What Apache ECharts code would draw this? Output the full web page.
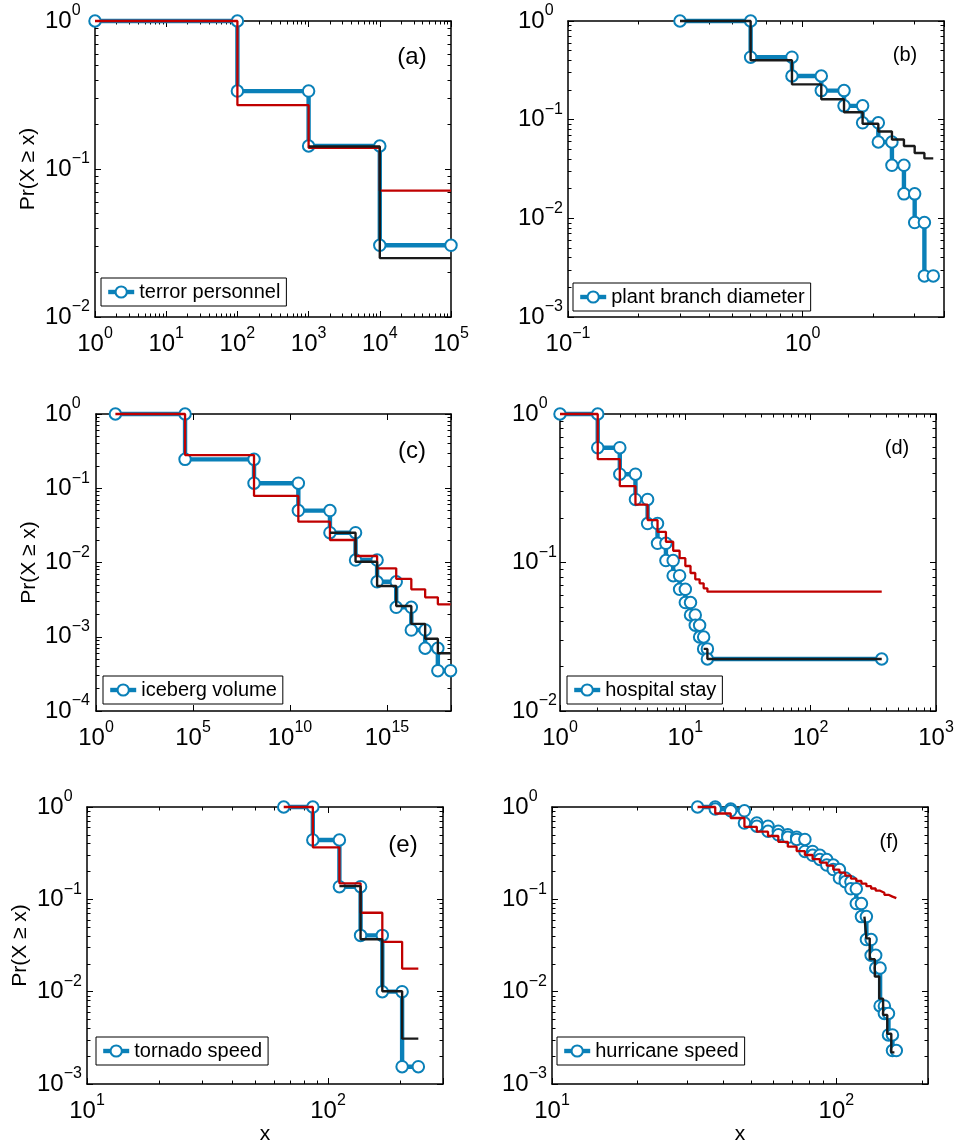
<!DOCTYPE html>
<html>
<head>
<meta charset="utf-8">
<script src="https://cdn.jsdelivr.net/npm/echarts@6/dist/echarts.min.js"></script>
<style>
  html, body { margin: 0; padding: 0; background: #fff; }
  #chart { width: 959px; height: 1145px; }
</style>
</head>
<body>
<div id="chart"></div>
<script>
// (a) terror personnel
const aEdges = [1, 100, 1000, 1e4, 1e5];
const aData = [1, 0.336, 0.143, 0.0305];
const aRed = [1, 0.27, 0.139, 0.0714];
const aBlackEdges = [1000, 1e4, 1e5];
const aBlack = [0.142, 0.025];

// (b) plant branch diameter
const bEdges = [0.3, 0.6, 0.9, 1.2, 1.5, 1.8, 2.1, 2.4, 2.7, 3.0, 3.3, 3.6];
const bData = [1, 0.43, 0.277, 0.197, 0.138, 0.093, 0.0594, 0.0345, 0.0177, 0.00906, 0.00261];
const bBlack = [1, 0.40, 0.228, 0.161, 0.119, 0.091, 0.076, 0.063, 0.054, 0.046, 0.0405];

// (c) iceberg volume
const cEdges = [10, 3.9e4, 1.4e8, 2.7e10, 1.15e12, 2.4e13, 3.1e14, 3e15, 1.8e16, 9.3e16, 4.2e17, 1.9e18];
const cData = [1, 0.245, 0.117, 0.05, 0.0252, 0.0108, 0.0055, 0.00249, 0.00123, 0.0007, 0.000349];
const cRed = [1, 0.28, 0.0787, 0.0355, 0.0201, 0.01224, 0.00834, 0.006, 0.00435, 0.0034, 0.00273];
const cBlackEdges = [1.15e12, 2.4e13, 3.1e14, 3e15, 1.8e16, 9.3e16, 4.2e17, 1.9e18];
const cBlack = [0.0252, 0.01025, 0.00483, 0.00259, 0.00149, 0.00094, 0.0006];

// (d) hospital stay
const dEdges = [1, 2, 3, 4, 5, 6, 7, 8, 9, 10, 11, 12, 13, 14, 15, 369];
const dData = [1, 0.593, 0.393, 0.266, 0.183, 0.1346, 0.103, 0.0815, 0.066, 0.0537, 0.0443, 0.0378, 0.0315, 0.0262, 0.0224];
const dRed = [1, 0.497, 0.327, 0.245, 0.193, 0.161, 0.138, 0.12, 0.107, 0.0947, 0.085, 0.077, 0.0724, 0.067, 0.0636];
const dBlackEdges = [14, 15, 369];
const dBlack = [0.0262, 0.0224];

// (e) tornado speed
const eEdges = [65.5, 86.5, 111.5, 136.5, 168, 203, 237];
const eData = [1, 0.439, 0.137, 0.0407, 0.01, 0.00154];
const eRed = [1, 0.366, 0.149, 0.0716, 0.0347, 0.0178];
const eBlackEdges = [111.5, 136.5, 168, 203, 237];
const eBlack = [0.139, 0.037, 0.0101, 0.0031];

// (f) hurricane speed
const fEdges = [32.5, 37.5, 42.5, 47.5, 52.5, 57.5, 62.5, 67.5, 72.5, 77.5, 82.5, 87.5, 92.5, 97.5,
  102.5, 107.5, 112.5, 117.5, 122.5, 127.5, 132.5, 137.5, 142.5, 147.5, 152.5, 157.5, 162.5];
const fData = [1, 0.95, 0.91, 0.67, 0.62, 0.545, 0.50, 0.47, 0.445, 0.33, 0.30, 0.27, 0.235, 0.21,
  0.17, 0.155, 0.13, 0.09, 0.065, 0.0367, 0.0248, 0.018, 0.007, 0.0058, 0.0034, 0.0023];
const fRed = [1, 0.85, 0.76, 0.61, 0.54, 0.485, 0.42, 0.372, 0.333, 0.302, 0.272, 0.25, 0.232, 0.21,
  0.195, 0.181, 0.168, 0.158, 0.148, 0.139, 0.131, 0.124, 0.118, 0.112, 0.107, 0.103];
const fBlackEdges = [125.5, 127.5, 131, 136.5, 141.5, 146, 151, 156, 160];
const fBlack = [0.0648, 0.0378, 0.0225, 0.0146, 0.0084, 0.0056, 0.0035, 0.0022];

const FONT = '"Liberation Sans", Arial, Helvetica, sans-serif';
const BLUE = '#0a80b8';
const RED = '#c00000';
const BLACK = '#1a1a1a';

// stairs: each bin drawn flat between its edges, drops at the edges
function stairs(edges, vals) {
  const pts = [];
  vals.forEach((v, i) => {
    pts.push([edges[i], v], [edges[i + 1], v]);
  });
  return pts;
}

// 10^n labels, blank for the extra tick ECharts puts at a non-decade max
function powLabel(v) {
  const e = Math.log10(v);
  const r = Math.round(e);
  if (Math.abs(e - r) > 1e-3) return '';
  return '{b|10}{s|' + (r < 0 ? '\u2212' + (-r) : r) + '}';
}

const RICH = {
  b: { fontSize: 24, lineHeight: 36, fontFamily: FONT, color: '#000' },
  s: { fontSize: 16, lineHeight: 12, verticalAlign: 'top', fontFamily: FONT, color: '#000' }
};

const panels = [
  { box: [95, 21, 356, 296], xr: [1, 1e5], xStep: 1, xMinor: true, yr: [0.01, 1],
    edges: aEdges, data: aData, redEdges: aEdges, red: aRed, blackEdges: aBlackEdges, black: aBlack,
    label: 'terror personnel', legend: [101, 278], tag: '(a)', tagAt: [412, 57], tagSize: 24,
    yName: true, xName: false, yMargin: 50 },
  { box: [568, 21, 376, 296], xr: [0.1, 4], xStep: 1, xMinor: true, yr: [0.001, 1],
    edges: bEdges, data: bData, redEdges: null, red: null, blackEdges: bEdges, black: bBlack,
    label: 'plant branch diameter', legend: [573, 283], tag: '(b)', tagAt: [905, 55], tagSize: 20,
    yName: false, xName: false, yMargin: 50 },
  { box: [96, 414, 355, 297], xr: [1, 2e18], xStep: 5, xMinor: false, yr: [0.0001, 1],
    edges: cEdges, data: cData, redEdges: cEdges, red: cRed, blackEdges: cBlackEdges, black: cBlack,
    label: 'iceberg volume', legend: [103, 676], tag: '(c)', tagAt: [412, 451], tagSize: 24,
    yName: true, xName: false, yMargin: 51 },
  { box: [560, 414, 376, 297], xr: [1, 1000], xStep: 1, xMinor: true, yr: [0.01, 1],
    edges: dEdges, data: dData, redEdges: dEdges, red: dRed, blackEdges: dBlackEdges, black: dBlack,
    label: 'hospital stay', legend: [567, 676], tag: '(d)', tagAt: [897, 448], tagSize: 20,
    yName: false, xName: false, yMargin: 48 },
  { box: [87, 807, 356, 277], xr: [10, 300], xStep: 1, xMinor: true, yr: [0.001, 1],
    edges: eEdges, data: eData, redEdges: eEdges, red: eRed, blackEdges: eBlackEdges, black: eBlack,
    label: 'tornado speed', legend: [96, 1037], tag: '(e)', tagAt: [403, 845], tagSize: 24,
    yName: true, xName: true, yMargin: 50 },
  { box: [552, 807, 376, 277], xr: [10, 210], xStep: 1, xMinor: true, yr: [0.001, 1],
    edges: fEdges, data: fData, redEdges: fEdges, red: fRed, blackEdges: fBlackEdges, black: fBlack,
    label: 'hurricane speed', legend: [557, 1037], tag: '(f)', tagAt: [889, 842], tagSize: 20,
    yName: false, xName: true, yMargin: 50 }
];

const lineAxis = { show: true, onZero: false, lineStyle: { color: '#000', width: 1.5 } };
const tick = { show: true, inside: true, length: 6, lineStyle: { color: '#000', width: 1 } };
const minor = (on) => ({ show: on, splitNumber: 9, length: 3.5, lineStyle: { color: '#000', width: 1 } });

const grid = [], xAxis = [], yAxis = [], series = [], legend = [], graphic = [];

panels.forEach((p, i) => {
  grid.push({ left: p.box[0], top: p.box[1], width: p.box[2], height: p.box[3],
    outerBoundsMode: 'none', containLabel: false });

  [false, true].forEach((top) => {
    xAxis.push({
      type: 'log', logBase: 10, gridIndex: i, position: top ? 'top' : 'bottom',
      min: p.xr[0], max: p.xr[1], interval: p.xStep,
      axisLine: lineAxis, axisTick: tick, minorTick: minor(p.xMinor),
      splitLine: { show: false }, minorSplitLine: { show: false },
      axisLabel: top ? { show: false } : {
        show: true, margin: 9, formatter: powLabel, rich: RICH,
        showMinLabel: true, showMaxLabel: true, hideOverlap: false
      },
      name: (!top && p.xName) ? 'x' : '', nameLocation: 'middle', nameGap: 36,
      nameTextStyle: { fontSize: 21, fontFamily: FONT, color: '#000' }
    });
    yAxis.push({
      type: 'log', logBase: 10, gridIndex: i, position: top ? 'right' : 'left',
      min: p.yr[0], max: p.yr[1], interval: 1,
      axisLine: lineAxis, axisTick: tick, minorTick: minor(true),
      splitLine: { show: false }, minorSplitLine: { show: false },
      axisLabel: top ? { show: false } : {
        show: true, margin: p.yMargin, align: 'left', formatter: powLabel, rich: RICH,
        showMinLabel: true, showMaxLabel: true, hideOverlap: false
      },
      name: (!top && p.yName) ? 'Pr(X \u2265 x)' : '', nameLocation: 'middle', nameGap: 56,
      nameTextStyle: { fontSize: 21, fontFamily: FONT, color: '#000' }
    });
  });

  const ax = { xAxisIndex: 2 * i, yAxisIndex: 2 * i, clip: false, silent: true, animation: false };

  series.push(Object.assign({
    name: p.label, type: 'line', data: stairs(p.edges, p.data),
    symbol: 'emptyCircle', symbolSize: 11.5, showSymbol: true, showAllSymbol: true,
    itemStyle: { color: BLUE, borderWidth: 1.4 },
    lineStyle: { color: BLUE, width: 4.4 }, z: 2
  }, ax));
  if (p.red) {
    series.push(Object.assign({
      type: 'line', data: stairs(p.redEdges, p.red), symbol: 'none',
      lineStyle: { color: RED, width: 2.3 }, z: 3
    }, ax));
  }
  if (p.black) {
    series.push(Object.assign({
      type: 'line', data: stairs(p.blackEdges, p.black), symbol: 'none',
      lineStyle: { color: BLACK, width: 2.4 }, z: 3
    }, ax));
  }

  legend.push({
    data: [p.label], left: p.legend[0], top: p.legend[1], orient: 'horizontal',
    backgroundColor: '#fff', borderColor: '#000', borderWidth: 1, borderRadius: 0,
    padding: [3, 6, 3, 5], itemWidth: 26, itemHeight: 14, selectedMode: false,
    lineStyle: { width: 4.4 },
    textStyle: { fontSize: 20, lineHeight: 22, fontFamily: FONT, color: '#000' }
  });

  graphic.push({
    type: 'text', x: p.tagAt[0], y: p.tagAt[1], silent: true,
    style: { text: p.tag, fontSize: p.tagSize, fontFamily: FONT, fill: '#000',
      align: 'center', verticalAlign: 'middle', textAlign: 'center', textVerticalAlign: 'middle' }
  });
});

const chart = echarts.init(document.getElementById('chart'));
chart.setOption({
  backgroundColor: '#fff',
  animation: false,
  grid: grid,
  xAxis: xAxis,
  yAxis: yAxis,
  legend: legend,
  graphic: graphic,
  series: series
});
</script>
</body>
</html>
